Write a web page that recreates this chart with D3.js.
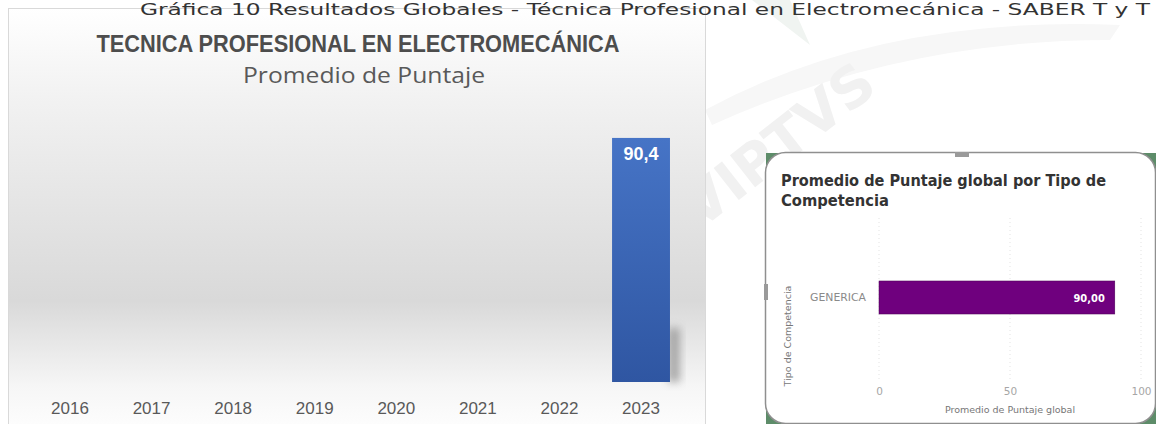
<!DOCTYPE html>
<html>
<head>
<meta charset="utf-8">
<script src="https://cdn.jsdelivr.net/npm/d3@7"></script>
<style>
  body { margin: 0; background: #ffffff; }
  svg { display: block; }
</style>
</head>
<body>
<svg id="vis" width="1156" height="424"></svg>
<script>
// left chart data (Excel)
var years = ["2016", "2017", "2018", "2019", "2020", "2021", "2022", "2023"];
var puntaje = [null, null, null, null, null, null, null, 90.4];

// right chart data (Power BI)
var competencias = ["GENERICA"];
var puntajeGlobal = [90.0];
var xTicks = [0, 50, 100];

var svg = d3.select("#vis");
var defs = svg.append("defs");

// ---- watermark -------------------------------------------------
svg.append("path")
    .attr("d", "M705,110 Q880,15 1120,25 L1110,40 Q900,40 712,125 Z")
    .attr("fill", "#f7f7f7");
svg.append("path")
    .attr("d", "M752,0 L810,45 L790,0 Z")
    .attr("fill", "#f0f4f1");
svg.append("text")
    .attr("transform", "translate(790,160) rotate(-38)")
    .attr("text-anchor", "middle")
    .attr("font-family", "DejaVu Sans, sans-serif")
    .attr("font-weight", "bold")
    .attr("font-size", 56)
    .attr("fill", "#f1f1f1")
    .text("VIPTVS");

// ---- left chart -------------------------------------------------
var bg = defs.append("linearGradient").attr("id", "panelBg")
    .attr("x1", 0).attr("y1", 0).attr("x2", 0).attr("y2", 1);
bg.append("stop").attr("offset", "0%").attr("stop-color", "#ffffff");
bg.append("stop").attr("offset", "22%").attr("stop-color", "#f1f1f1");
bg.append("stop").attr("offset", "68%").attr("stop-color", "#d9d9d9");
bg.append("stop").attr("offset", "88%").attr("stop-color", "#f6f6f6");
bg.append("stop").attr("offset", "100%").attr("stop-color", "#ffffff");

var barGrad = defs.append("linearGradient").attr("id", "barGrad")
    .attr("x1", 0).attr("y1", 0).attr("x2", 0).attr("y2", 1);
barGrad.append("stop").attr("offset", "0%").attr("stop-color", "#4674c6");
barGrad.append("stop").attr("offset", "100%").attr("stop-color", "#2f56a2");

defs.append("filter").attr("id", "blur")
    .attr("x", "-50%").attr("y", "-50%").attr("width", "200%").attr("height", "200%")
    .append("feGaussianBlur").attr("stdDeviation", 4);

svg.append("rect")
    .attr("x", 8.5).attr("y", 8.5)
    .attr("width", 697).attr("height", 430)
    .attr("fill", "url(#panelBg)")
    .attr("stroke", "#d9d9d9");

// page caption, on top of the panel edge
svg.append("text")
    .attr("x", 140)
    .attr("y", 15)
    .attr("font-family", "DejaVu Sans, sans-serif")
    .attr("font-size", 16.5)
    .attr("fill", "#333333")
    .attr("textLength", 1010)
    .attr("lengthAdjust", "spacingAndGlyphs")
    .text("Gráfica 10 Resultados Globales - Técnica Profesional en Electromecánica - SABER T y T");

svg.append("text")
    .attr("x", 358).attr("y", 52)
    .attr("text-anchor", "middle")
    .attr("font-family", "Liberation Sans Narrow, Liberation Sans, sans-serif")
    .attr("font-weight", "bold")
    .attr("font-size", 24)
    .attr("fill", "#4d4d4d")
    .attr("textLength", 523)
    .attr("lengthAdjust", "spacingAndGlyphs")
    .text("TECNICA PROFESIONAL EN ELECTROMECÁNICA");

svg.append("text")
    .attr("x", 364).attr("y", 83)
    .attr("text-anchor", "middle")
    .attr("font-family", "Open Sans, sans-serif")
    .attr("font-size", 21)
    .attr("fill", "#595959")
    .attr("textLength", 242)
    .attr("lengthAdjust", "spacingAndGlyphs")
    .text("Promedio de Puntaje");

var x = d3.scaleBand()
    .domain(years)
    .range([29.2, 681.8])
    .paddingInner(0.29)
    .paddingOuter(0.145);

var y = d3.scaleLinear()
    .domain([0, 100])
    .range([382, 112]);

var rows = years.map(function(d, i) { return { year: d, value: puntaje[i] }; })
    .filter(function(d) { return d.value != null; });

// bar shadow
svg.append("g").selectAll("rect")
    .data(rows)
    .enter().append("rect")
    .attr("x", function(d) { return x(d.year) + x.bandwidth() - 2; })
    .attr("y", function(d) { return y(d.value) + 190; })
    .attr("width", 12)
    .attr("height", function(d) { return y(0) - y(d.value) - 190; })
    .attr("fill", "#8a8a8a")
    .attr("opacity", 0.7)
    .attr("filter", "url(#blur)");

svg.append("g").selectAll("rect")
    .data(rows)
    .enter().append("rect")
    .attr("x", function(d) { return x(d.year); })
    .attr("y", function(d) { return y(d.value); })
    .attr("width", x.bandwidth())
    .attr("height", function(d) { return y(0) - y(d.value); })
    .attr("fill", "url(#barGrad)");

svg.append("g").selectAll("text")
    .data(rows)
    .enter().append("text")
    .attr("x", function(d) { return x(d.year) + x.bandwidth() / 2; })
    .attr("y", function(d) { return y(d.value) + 22; })
    .attr("text-anchor", "middle")
    .attr("font-family", "Liberation Sans Narrow, Liberation Sans, sans-serif")
    .attr("font-weight", "bold")
    .attr("font-size", 18)
    .attr("fill", "#ffffff")
    .text(function(d) { return d3.format(".1f")(d.value).replace(".", ","); });

var xAxis = svg.append("g")
    .attr("transform", "translate(0,382)")
    .call(d3.axisBottom(x).tickSize(0).tickPadding(20));
xAxis.select(".domain").remove();
xAxis.selectAll("text")
    .attr("font-family", "Liberation Sans Narrow, Liberation Sans, sans-serif")
    .attr("font-size", 17)
    .attr("fill", "#595959");

// ---- right card (Power BI) ---------------------------------------
svg.append("rect")
    .attr("x", 766).attr("y", 153)
    .attr("width", 390).attr("height", 271)
    .attr("fill", "#5d8c69");
svg.append("rect")
    .attr("x", 765.5).attr("y", 152.5)
    .attr("width", 390).attr("height", 271)
    .attr("rx", 20)
    .attr("fill", "#ffffff")
    .attr("stroke", "#8f8f8f")
    .attr("stroke-width", 1.5);
svg.append("rect")
    .attr("x", 955).attr("y", 152).attr("width", 14).attr("height", 5)
    .attr("fill", "#9a9a9a");
svg.append("rect")
    .attr("x", 764).attr("y", 284).attr("width", 4).attr("height", 16)
    .attr("fill", "#9a9a9a");

var titleLines = ["Promedio de Puntaje global por Tipo de", "Competencia"];
svg.append("g").selectAll("text")
    .data(titleLines)
    .enter().append("text")
    .attr("x", 781)
    .attr("y", function(d, i) { return 186 + i * 20; })
    .attr("font-family", "DejaVu Sans Condensed, DejaVu Sans, sans-serif")
    .attr("font-weight", "bold")
    .attr("font-size", 15.5)
    .attr("fill", "#333333")
    .attr("textLength", function(d, i) { return i === 0 ? 325 : 108; })
    .attr("lengthAdjust", "spacingAndGlyphs")
    .text(function(d) { return d; });

var x2 = d3.scaleLinear()
    .domain([0, 100])
    .range([879, 1141]);

var y2 = d3.scaleBand()
    .domain(competencias)
    .range([222, 373])
    .padding(0.641);

// dotted grid
svg.append("g").selectAll("line")
    .data(xTicks)
    .enter().append("line")
    .attr("x1", function(d) { return x2(d); })
    .attr("x2", function(d) { return x2(d); })
    .attr("y1", 218)
    .attr("y2", 380)
    .attr("stroke", "#e3e3e3")
    .attr("stroke-dasharray", "1,3");

var rows2 = competencias.map(function(d, i) { return { tipo: d, value: puntajeGlobal[i] }; });

svg.append("g").selectAll("rect")
    .data(rows2)
    .enter().append("rect")
    .attr("x", x2(0))
    .attr("y", function(d) { return y2(d.tipo); })
    .attr("width", function(d) { return x2(d.value) - x2(0); })
    .attr("height", y2.bandwidth())
    .attr("fill", "#6f007e")
    .attr("stroke", "#4b0055")
    .attr("stroke-width", 0.5);

svg.append("g").selectAll("text")
    .data(rows2)
    .enter().append("text")
    .attr("x", function(d) { return x2(d.value) - 10; })
    .attr("y", function(d) { return y2(d.tipo) + y2.bandwidth() / 2 + 4; })
    .attr("text-anchor", "end")
    .attr("font-family", "DejaVu Sans Condensed, DejaVu Sans, sans-serif")
    .attr("font-weight", "bold")
    .attr("font-size", 11)
    .attr("fill", "#ffffff")
    .text(function(d) { return d3.format(".2f")(d.value).replace(".", ","); });

var yAxis2 = svg.append("g")
    .attr("transform", "translate(866,0)")
    .call(d3.axisLeft(y2).tickSize(0).tickPadding(0));
yAxis2.select(".domain").remove();
yAxis2.selectAll("text")
    .attr("font-family", "DejaVu Sans, sans-serif")
    .attr("font-size", 11)
    .attr("fill", "#8a8a8a")
    .attr("textLength", 56)
    .attr("lengthAdjust", "spacingAndGlyphs");

var xAxis2 = svg.append("g")
    .attr("transform", "translate(0,380)")
    .call(d3.axisBottom(x2).tickValues(xTicks).tickSize(0).tickPadding(8));
xAxis2.select(".domain").remove();
xAxis2.selectAll("text")
    .attr("font-family", "DejaVu Sans, sans-serif")
    .attr("font-size", 10.5)
    .attr("fill", "#a6a6a6");

svg.append("text")
    .attr("x", 1010).attr("y", 413)
    .attr("text-anchor", "middle")
    .attr("font-family", "DejaVu Sans, sans-serif")
    .attr("font-size", 9.5)
    .attr("fill", "#777777")
    .text("Promedio de Puntaje global");

svg.append("text")
    .attr("transform", "translate(791,336) rotate(-90)")
    .attr("text-anchor", "middle")
    .attr("font-family", "DejaVu Sans, sans-serif")
    .attr("font-size", 9.5)
    .attr("fill", "#777777")
    .text("Tipo de Competencia");
</script>
</body>
</html>
